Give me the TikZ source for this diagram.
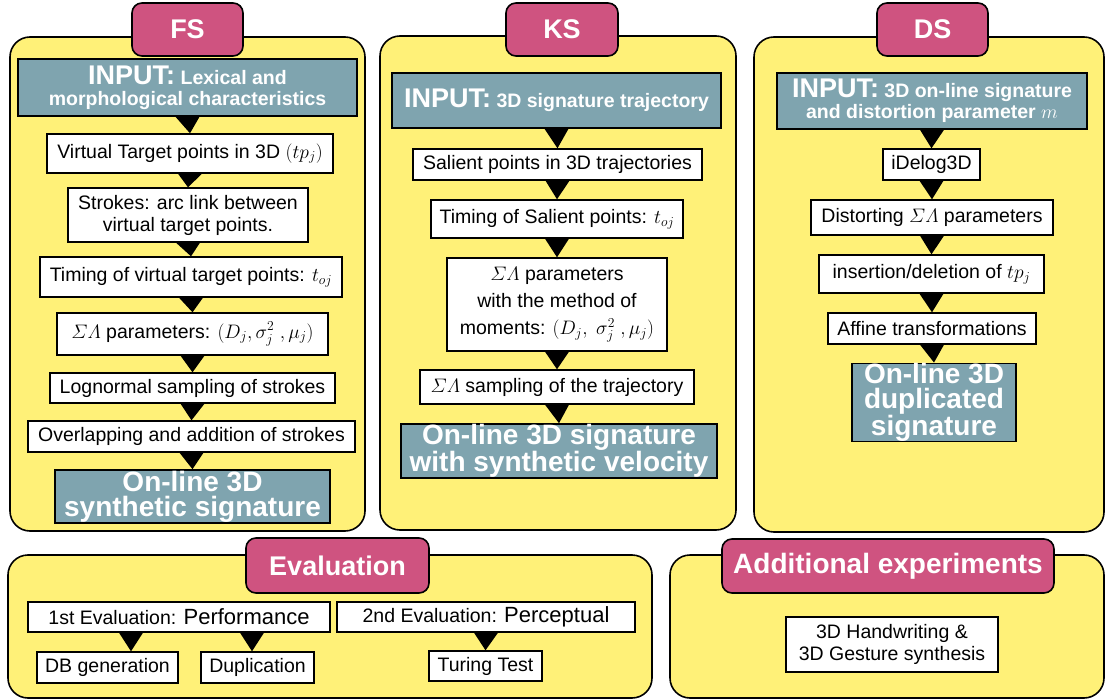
\RequirePackage{fix-cm}
\documentclass[tikz,border=0pt]{standalone}
\usepackage{amsmath}
\usepackage{fontspec}
\setmainfont{Liberation Sans}
\definecolor{panelyellow}{RGB}{255,241,120}
\definecolor{tagpink}{RGB}{207,83,128}
\definecolor{ioteal}{RGB}{127,164,175}
\tikzset{
  panel/.style={draw, line width=1.6pt, fill=panelyellow, rounded corners=20pt},
  tag/.style={draw, line width=1.6pt, fill=tagpink, rounded corners=10pt, inner sep=0pt,
    text=white, font=\fontsize{27}{30}\selectfont\bfseries},
  iobox/.style={draw, line width=1.6pt, fill=ioteal, text=white, align=center, inner sep=0pt,
    font=\fontsize{19.5}{21}\selectfont\bfseries},
  outbox/.style={iobox, font=\fontsize{28}{25}\selectfont\bfseries},
  stepbox/.style={draw, line width=1.4pt, fill=white, align=center, inner sep=0pt,
    font=\fontsize{19.5}{22}\selectfont},
}
\newcommand{\bigin}{{\fontsize{27}{21}\selectfont INPUT:}}
\newcommand{\drop}[2]{\fill (#1.south) ++(-12,0) -- ++(24,0) -- (#2.north) -- cycle;}
\newcommand{\dropat}[3]{\fill (#3 |- #1.south) ++(-12,0) -- ++(24,0) -- (#3 |- #2.north) -- cycle;}
\begin{document}
\begin{tikzpicture}[x=1pt,y=-1pt]
  \useasboundingbox[fill=white] (0,0) rectangle (1105,700);
  %% panels
  \draw[panel] (10,37) rectangle (365,531);
  \draw[panel] (380,36) rectangle (736,530);
  \draw[panel] (754,37) rectangle (1104,532);
  \draw[panel] (8,555) rectangle (652,698);
  \draw[panel] (670,555) rectangle (1104,698);
  %% titles
  \node[tag, minimum width=111, minimum height=53] (fstag) at (187.5,29.5) {FS};
  \node[tag, minimum width=112, minimum height=53] (kstag) at (562,29.5) {KS};
  \node[tag, minimum width=111, minimum height=53] (dstag) at (932.5,29.5) {DS};
  \node[tag, minimum width=183, minimum height=55] (evtag) at (337.5,565.5) {Evaluation};
  \node[tag, minimum width=332, minimum height=54, font=\fontsize{28}{30}\selectfont\bfseries] (adtag) at (888,566) {Additional experiments};
  %% FS
  \node[iobox, minimum width=339, minimum height=57] (fsin) at (187.5,87.5) {\bigin{} Lexical and\\morphological characteristics};
  \node[stepbox, minimum width=286, minimum height=39] (fs1) at (190,153.5) {Virtual Target points in 3D $(tp_j)$};
  \node[stepbox, minimum width=240, minimum height=54] (fs2) at (188,215) {Strokes: arc link between\\virtual target points.};
  \node[stepbox, minimum width=302, minimum height=40] (fs3) at (191,277) {Timing of virtual target points: $t_{oj}$};
  \node[stepbox, minimum width=271, minimum height=42] (fs4) at (192.5,334) {$\varSigma\varLambda$ parameters: $(D_j, \sigma_j^2\ , \mu_j)$};
  \node[stepbox, minimum width=285, minimum height=30] (fs5) at (192.5,388) {Lognormal sampling of strokes};
  \node[stepbox, minimum width=327, minimum height=31] (fs6) at (191.5,436.5) {Overlapping and addition of strokes};
  \node[outbox, minimum width=275, minimum height=53] (fsout) at (192.5,496.5) {On-line 3D\\synthetic signature};
  \drop{fsin}{fs1} \drop{fs1}{fs2} \drop{fs2}{fs3} \drop{fs3}{fs4}
  \drop{fs4}{fs5} \drop{fs5}{fs6} \drop{fs6}{fsout}
  %% KS
  \node[iobox, minimum width=329, minimum height=55] (ksin) at (556.5,100.5) {\bigin{} 3D signature trajectory};
  \node[stepbox, minimum width=289, minimum height=31] (ks1) at (557.5,164.5) {Salient points in 3D trajectories};
  \node[stepbox, minimum width=252, minimum height=38] (ks2) at (557,219) {Timing of Salient points: $t_{oj}$};
  \node[stepbox, minimum width=220, minimum height=93, font=\fontsize{19.5}{27}\selectfont] (ks3) at (557,304.5) {$\varSigma\varLambda$ parameters\\with the method of\\moments: $(D_j,\ \sigma_j^2\ , \mu_j)$};
  \node[stepbox, minimum width=274, minimum height=34] (ks4) at (557,387) {$\varSigma\varLambda$ sampling of the trajectory};
  \node[outbox, minimum width=316, minimum height=54] (ksout) at (559,451) {On-line 3D signature\\with synthetic velocity};
  \drop{ksin}{ks1} \drop{ks1}{ks2} \drop{ks2}{ks3} \drop{ks3}{ks4} \drop{ks4}{ksout}
  %% DS
  \node[iobox, minimum width=310, minimum height=56] (dsin) at (932,101) {\bigin{} 3D on-line signature\\and distortion parameter $m$};
  \node[stepbox, minimum width=97, minimum height=31] (ds1) at (931.5,164.5) {iDelog3D};
  \node[stepbox, minimum width=242, minimum height=35] (ds2) at (932,217.5) {Distorting $\varSigma\varLambda$ parameters};
  \node[stepbox, minimum width=225, minimum height=38] (ds3) at (931.5,274) {insertion/deletion of $tp_j$};
  \node[stepbox, minimum width=208, minimum height=31] (ds4) at (932,328.5) {Affine transformations};
  \node[outbox, minimum width=164, minimum height=77] (dsout) at (934,402.5) {On-line 3D\\duplicated\\signature};
  \drop{dsin}{ds1} \drop{ds1}{ds2} \drop{ds2}{ds3} \drop{ds3}{ds4} \drop{ds4}{dsout}
  %% evaluation
  \node[stepbox, minimum width=302, minimum height=30] (ev1) at (179,617) {1st Evaluation: {\fontsize{22}{22}\selectfont Performance}};
  \node[stepbox, minimum width=298, minimum height=30] (ev2) at (486,617) {2nd Evaluation: {\fontsize{22}{22}\selectfont Perceptual}};
  \node[stepbox, minimum width=141, minimum height=31] (dbgen) at (107.5,667.5) {DB generation};
  \node[stepbox, minimum width=113, minimum height=31] (dup) at (257.5,667.5) {Duplication};
  \node[stepbox, minimum width=113, minimum height=30] (turing) at (485.5,666) {Turing Test};
  \coordinate (dbx) at (131,0);
  \coordinate (dupx) at (252,0);
  \dropat{ev1}{dbgen}{dbx} \dropat{ev1}{dup}{dupx} \drop{ev2}{turing}
  %% additional experiments
  \node[stepbox, minimum width=212, minimum height=55] (ad1) at (892,644.5) {3D Handwriting \&\\3D Gesture synthesis};
\end{tikzpicture}
\end{document}
